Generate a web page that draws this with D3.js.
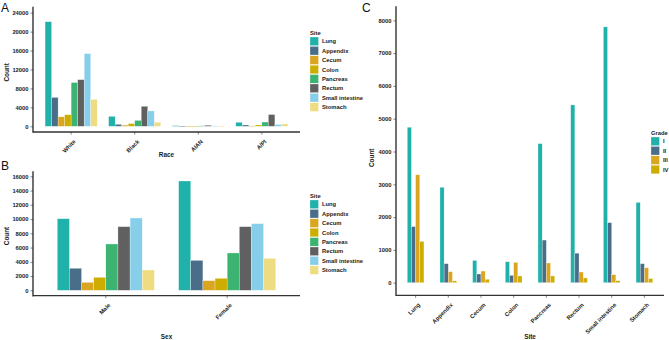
<!DOCTYPE html>
<html>
<head>
<meta charset="utf-8">
<script src="https://cdn.jsdelivr.net/npm/d3@7"></script>
<style>
  body { margin: 0; background: #fff; }
  svg { font-family: "Liberation Sans", Arial, sans-serif; }
  .tick-lab { font-size: 5.8px; font-weight: bold; fill: #1a1a1a; }
  .ax-title { font-size: 6.4px; font-weight: bold; fill: #1a1a1a; }
  .leg-lab { font-size: 5.8px; font-weight: bold; fill: #1a1a1a; }
  .panel-lab { font-size: 12px; fill: #111; }
</style>
</head>
<body>
<div id="chart"></div>
<script>
// sites and colours
const sites = ["Lung", "Appendix", "Cecum", "Colon", "Pancreas", "Rectum", "Small intestine", "Stomach"]
const siteColors = ["#20B2AA", "#4A6E8A", "#DAA520", "#CDAD00", "#3CB371", "#606060", "#87CEEB", "#EEDC82"]

// panel A: count by race (values in site order)
const races = ["White", "Black", "AIAN", "A/PI"]
const whiteCounts = [22100, 6100, 2000, 2450, 9250, 9850, 15350, 5700]
const blackCounts = [2100, 420, 250, 570, 1250, 4230, 3250, 850]
const aianCounts = [150, 60, 40, 50, 110, 220, 100, 60]
const apiCounts = [850, 280, 100, 280, 900, 2480, 380, 500]
const ticksA = [0, 4000, 8000, 12000, 16000, 20000, 24000]

// panel B: count by sex
const sexes = ["Male", "Female"]
const maleCounts = [10050, 3090, 1120, 1820, 6500, 8930, 10150, 2850]
const femaleCounts = [15340, 4200, 1350, 1680, 5240, 8930, 9350, 4490]
const ticksB = [0, 2000, 4000, 6000, 8000, 10000, 12000, 14000, 16000]

// panel C: count by grade within site
const grades = ["I", "II", "III", "IV"]
const gradeI = [4740, 2910, 680, 640, 4240, 5420, 7800, 2450]
const gradeII = [1710, 580, 265, 225, 1300, 900, 1830, 580]
const gradeIII = [3290, 335, 355, 620, 600, 325, 245, 455]
const gradeIV = [1260, 55, 105, 205, 205, 145, 60, 125]
const ticksC = [0, 1000, 2000, 3000, 4000, 5000, 6000, 7000, 8000]

const W = 669, H = 340

const svg = d3.select("#chart").append("svg")
    .attr("width", W)
    .attr("height", H)

// generic grouped bar panel
function drawPanel(opt) {
    let g = svg.append("g")

    let x = d3.scalePoint()
        .domain(opt.cats)
        .range([opt.left, opt.right])
        .padding(0.6)

    let half = x.step() * opt.groupWidth / 2
    let xi = d3.scaleBand()
        .domain(opt.groups)
        .range([-half, half])
        .padding(0)

    let y = d3.scaleLinear()
        .domain([0, opt.ticks[opt.ticks.length - 1]])
        .range([opt.y0, opt.yTop])

    let color = d3.scaleOrdinal().domain(opt.groups).range(opt.colors)

    // flatten rows
    let rows = []
    opt.cats.forEach((c, ci) => {
        opt.groups.forEach((gname, gi) => {
            rows.push({cat: c, group: gname, value: opt.value(ci, gi)})
        })
    })

    g.selectAll(".bar")
        .data(rows)
        .enter().append("rect")
        .attr("class", "bar")
        .attr("x", d => x(d.cat) + xi(d.group))
        .attr("width", xi.bandwidth())
        .attr("y", d => y(d.value))
        .attr("height", d => Math.max(0.6, y(0) - y(d.value)))
        .attr("fill", d => color(d.group))
        .attr("stroke", "rgba(255,255,255,0.7)")
        .attr("stroke-width", 0.4)

    // y axis
    let yAxis = d3.axisLeft(y)
        .tickValues(opt.ticks)
        .tickSize(2.5)
        .tickPadding(2)
        .tickFormat(d3.format("d"))
    let ya = g.append("g")
        .attr("transform", `translate(${opt.left},0)`)
        .call(yAxis)
    ya.select(".domain").remove()
    ya.selectAll(".tick line").attr("stroke", "#333").attr("stroke-width", 0.6)
    ya.selectAll(".tick text").attr("class", "tick-lab").attr("fill", null)

    // axis lines
    g.append("line")
        .attr("x1", opt.left).attr("x2", opt.left)
        .attr("y1", opt.yTop - opt.topPad).attr("y2", opt.axisY + 0.7)
        .attr("stroke", "#222").attr("stroke-width", 1.3)
    g.append("line")
        .attr("x1", opt.left).attr("x2", opt.right)
        .attr("y1", opt.axisY).attr("y2", opt.axisY)
        .attr("stroke", "#333").attr("stroke-width", 1.3)

    // x ticks and rotated labels
    opt.cats.forEach(c => {
        g.append("line")
            .attr("x1", x(c)).attr("x2", x(c))
            .attr("y1", opt.axisY).attr("y2", opt.axisY + 2.5)
            .attr("stroke", "#333").attr("stroke-width", 0.6)
        g.append("text")
            .attr("class", "tick-lab")
            .attr("text-anchor", "end")
            .attr("transform", `translate(${x(c) + 5},${opt.axisY + 10}) rotate(-45)`)
            .text(c)
    })

    // axis titles
    g.append("text")
        .attr("class", "ax-title")
        .attr("text-anchor", "middle")
        .attr("x", (opt.left + opt.right) / 2)
        .attr("y", opt.xTitleY)
        .text(opt.xTitle)
    g.append("text")
        .attr("class", "ax-title")
        .attr("text-anchor", "middle")
        .attr("transform", `translate(${opt.yTitleX},${(opt.yTop + opt.axisY) / 2}) rotate(-90)`)
        .text("Count")

    // panel letter
    g.append("text")
        .attr("class", "panel-lab")
        .attr("x", opt.letterX)
        .attr("y", opt.letterY)
        .text(opt.letter)

    // legend
    let leg = g.append("g")
        .attr("transform", `translate(${opt.legX},${opt.legY})`)
    leg.append("text")
        .attr("class", "leg-lab")
        .attr("x", 0).attr("y", -2)
        .text(opt.legTitle)
    opt.groups.forEach((gname, i) => {
        leg.append("rect")
            .attr("x", 0).attr("y", i * 9.4)
            .attr("width", 8.5).attr("height", 8.6)
            .attr("fill", color(gname))
            .attr("stroke", "rgba(255,255,255,0.7)")
            .attr("stroke-width", 0.4)
        leg.append("text")
            .attr("class", "leg-lab")
            .attr("x", 12)
            .attr("y", i * 9.4 + 6.4)
            .text(gname)
    })
}

const byRace = [whiteCounts, blackCounts, aianCounts, apiCounts]
drawPanel({
    cats: races, groups: sites, colors: siteColors,
    value: (ci, gi) => byRace[ci][gi],
    left: 33, right: 300, y0: 126.3, yTop: 12.7, topPad: 6, axisY: 132,
    ticks: ticksA, groupWidth: 0.82,
    xTitle: "Race", xTitleY: 157, yTitleX: 9,
    letter: "A", letterX: 1, letterY: 12,
    legTitle: "Site", legX: 310, legY: 37
})

const bySex = [maleCounts, femaleCounts]
drawPanel({
    cats: sexes, groups: sites, colors: siteColors,
    value: (ci, gi) => bySex[ci][gi],
    left: 33, right: 300, y0: 290.3, yTop: 176.3, topPad: 5, axisY: 295.7,
    ticks: ticksB, groupWidth: 0.8,
    xTitle: "Sex", xTitleY: 339, yTitleX: 9,
    letter: "B", letterX: 1, letterY: 170,
    legTitle: "Site", legX: 310, legY: 200
})

const byGrade = [gradeI, gradeII, gradeIII, gradeIV]
drawPanel({
    cats: sites, groups: grades, colors: siteColors.slice(0, 4),
    value: (ci, gi) => byGrade[gi][ci],
    left: 396, right: 664, y0: 282.7, yTop: 20.3, topPad: 14, axisY: 295.3,
    ticks: ticksC, groupWidth: 0.51,
    xTitle: "Site", xTitleY: 339, yTitleX: 374,
    letter: "C", letterX: 362, letterY: 12,
    legTitle: "Grade", legX: 651, legY: 137
})
</script>
</body>
</html>
